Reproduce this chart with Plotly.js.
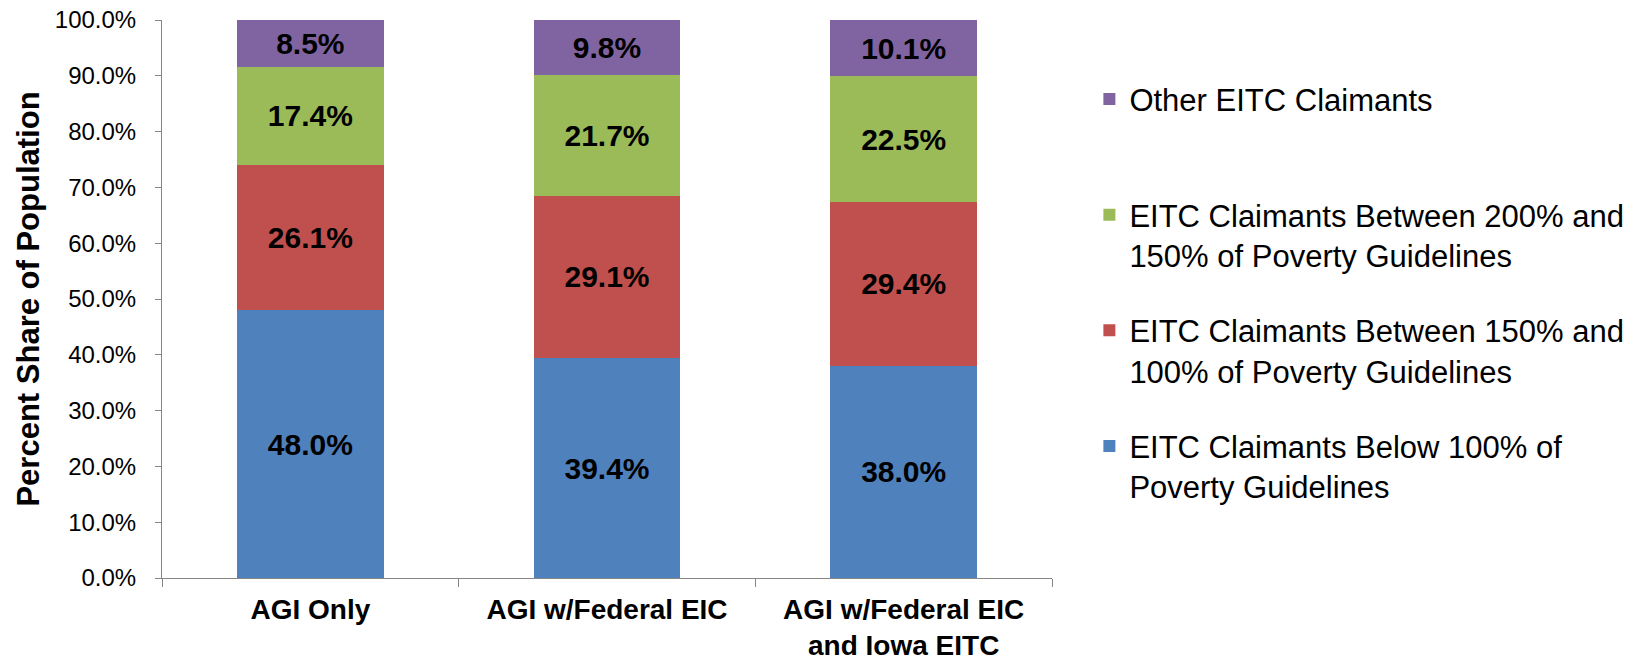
<!DOCTYPE html>
<html>
<head>
<meta charset="utf-8">
<script src="https://cdn.plot.ly/plotly-3.0.1.min.js"></script>
<style>html,body{margin:0;padding:0;background:#fff;}#chart{width:1642px;height:660px;}</style>
</head>
<body>
<div id="chart"></div>
<script>
const categories = ["AGI Only", "AGI w/Federal EIC", "AGI w/Federal EIC<br>and Iowa EITC"];
const seriesNames = [
  "EITC Claimants Below 100% of<br>Poverty Guidelines",
  "EITC Claimants Between 150% and<br>100% of Poverty Guidelines",
  "EITC Claimants Between 200% and<br>150% of Poverty Guidelines",
  "Other EITC Claimants<br>\u00a0"
];
const below100 = [48.0, 39.4, 38.0];
const between150and100 = [26.1, 29.1, 29.4];
const between200and150 = [17.4, 21.7, 22.5];
const otherClaimants = [8.5, 9.8, 10.1];
const yTickValues = [0, 10, 20, 30, 40, 50, 60, 70, 80, 90, 100];
const yTickLabels = ["0.0%", "10.0%", "20.0%", "30.0%", "40.0%", "50.0%", "60.0%", "70.0%", "80.0%", "90.0%", "100.0%"];

const colors = ["#4F81BD", "#C0504D", "#9BBB59", "#8064A2"];
const seriesValues = [below100, between150and100, between200and150, otherClaimants];
const FONT = "Liberation Sans, Arial, Helvetica, sans-serif";

const traces = seriesValues.map((vals, i) => ({
  type: "bar",
  name: seriesNames[i],
  x: categories,
  y: vals,
  legendgroup: "g" + i,
  legendrank: 1000 - i,
  marker: {color: colors[i], line: {width: 0}},
  texttemplate: "%{y:.1f}%",
  textposition: "inside",
  insidetextanchor: "middle",
  textangle: 0,
  constraintext: "none",
  textfont: {family: FONT, size: 30, color: "#000", weight: "bold"},
  hoverinfo: "skip"
}));

const layout = {
  width: 1642,
  height: 660,
  margin: {l: 162, r: 590, t: 20, b: 82},
  barmode: "stack",
  bargap: 0.505,
  paper_bgcolor: "#fff",
  plot_bgcolor: "#fff",
  font: {family: FONT, color: "#000"},
  showlegend: true,
  legend: {
    x: 1.042, xanchor: "left",
    y: 0.906, yanchor: "top",
    traceorder: "grouped",
    tracegroupgap: 32,
    valign: "top",
    font: {family: FONT, size: 31, color: "#000"},
    borderwidth: 0,
    bgcolor: "rgba(0,0,0,0)"
  },
  xaxis: {
    type: "category",
    showline: true,
    linecolor: "#868686",
    linewidth: 1,
    ticks: "outside",
    tickson: "boundaries",
    ticklen: 8,
    tickcolor: "#868686",
    ticklabelstandoff: 6,
    tickfont: {family: FONT, size: 28, color: "#000", weight: "bold"},
    showgrid: false,
    zeroline: false,
    fixedrange: true
  },
  yaxis: {
    range: [0, 100],
    tickmode: "array",
    tickvals: yTickValues,
    ticktext: yTickLabels,
    showline: true,
    linecolor: "#868686",
    linewidth: 1,
    ticks: "outside",
    ticklen: 6,
    tickcolor: "#868686",
    ticklabelstandoff: 14,
    tickfont: {family: FONT, size: 24, color: "#000"},
    showgrid: false,
    zeroline: false,
    fixedrange: true,
    title: {text: "Percent Share of Population", font: {family: FONT, size: 31, color: "#000", weight: "bold"}, standoff: 5}
  }
};

Plotly.newPlot("chart", traces, layout, {displayModeBar: false, staticPlot: true});
</script>
</body>
</html>
